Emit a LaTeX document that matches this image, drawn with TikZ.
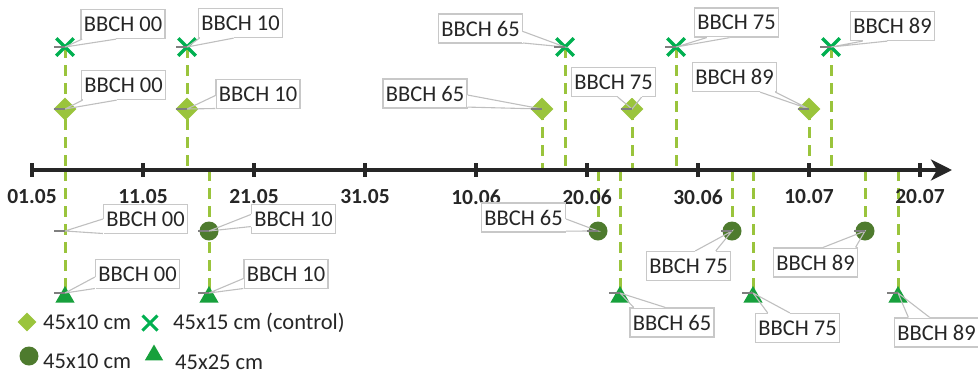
\documentclass[tikz,border=0pt]{standalone}
\usepackage{fontspec}
\setmainfont{Carlito}
\usetikzlibrary{shapes.geometric,shapes.misc,arrows.meta,calc}
\definecolor{lgreen}{HTML}{9AC43C}
\definecolor{xgreen}{HTML}{00B050}
\definecolor{dgreen}{HTML}{4E7B2E}
\definecolor{tgreen}{HTML}{17A03C}
\definecolor{boxgray}{HTML}{C8C8C8}
\definecolor{leadgray}{HTML}{BFBFBF}
\definecolor{stubgray}{HTML}{7F7F7F}
\definecolor{axisblack}{HTML}{262626}
\definecolor{txt}{HTML}{262626}

\tikzset{
  lbl/.style={draw=boxgray, fill=white, line width=1.2pt, text=txt,
    font=\fontsize{22.5}{26}\selectfont, minimum width=84pt, minimum height=29pt, inner sep=0pt},
  leader/.style={draw=leadgray, line width=1.1pt},
  stub/.style={draw=stubgray, line width=1.6pt},
  drop/.style={draw=lgreen, line width=3pt, dash pattern=on 11pt off 7pt},
  dmark/.style={diamond, fill=lgreen, minimum size=23pt, inner sep=0pt},
  xmark/.style={cross out, draw=xgreen, line width=3.5pt, minimum size=14pt, inner sep=0pt},
  omark/.style={circle, fill=dgreen, minimum size=19pt, inner sep=0pt},
  tmark/.style={regular polygon, regular polygon sides=3, fill=tgreen, minimum size=22pt, inner sep=0pt},
  axisline/.style={draw=axisblack, line width=3.5pt},
  ticklbl/.style={font=\fontsize{21.5}{25}\selectfont\bfseries, text=txt},
  legtxt/.style={font=\fontsize{22.5}{26}\selectfont, text=txt, anchor=west, inner sep=0pt}
}

% wedge of a callout box: box, edge anchors, fractions along the edge, tip
\newcommand\callout[6]{%
  \coordinate (#1-a) at ($(#1.#2)!#4!(#1.#3)$);
  \coordinate (#1-b) at ($(#1.#2)!#5!(#1.#3)$);
  \draw[white, line width=1.8pt] (#1-a) -- (#1-b);
  \draw[leader] (#1-a) -- (#6) -- (#1-b);
  \draw[stub] ($(#6)+(-11,0)$) -- (#6);
}

\begin{document}
\begin{tikzpicture}[x=1pt, y=-1pt]
\path[use as bounding box] (0,0) rectangle (978,373);
\coordinate (ax) at (0,170);

% marker positions
\coordinate (x00) at (65,47);
\coordinate (x10) at (187,47);
\coordinate (x65) at (565,47);
\coordinate (x75) at (676,47);
\coordinate (x89) at (831,47);
\coordinate (d00) at (65,109);
\coordinate (d10) at (187,109);
\coordinate (d65) at (542,109);
\coordinate (d75) at (632,109);
\coordinate (d89) at (809,109);
\coordinate (o00) at (65,231);
\coordinate (o10) at (209,231);
\coordinate (o65) at (598,231);
\coordinate (o75) at (732,231);
\coordinate (o89) at (865,231);
\coordinate (t00) at (65,293);
\coordinate (t10) at (209,293);
\coordinate (t65) at (620,293);
\coordinate (t75) at (753,293);
\coordinate (t89) at (898,293);

% drop lines to the time axis
\foreach \m in {x00,x10,x65,x75,x89,d65,d75,d89}
  \draw[drop] (\m) -- (\m |- ax);
\foreach \m in {t00,t10,t65,t75,t89,o65,o75,o89}
  \draw[drop] (\m |- ax) -- (\m);

% markers
\foreach \m in {x00,x10,x65,x75,x89}
  \node[xmark] (m\m) at (\m) {};
\foreach \m in {d00,d10,d65,d75,d89}
  \node[dmark] (m\m) at (\m) {};
\foreach \m in {o10,o65,o75,o89}
  \node[omark] (m\m) at (\m) {};
\foreach \m in {t00,t10,t65,t75,t89}
  \node[tmark] (m\m) at ($(\m)+(0,4)$) {};

% time axis
\coordinate (axs) at (32,170);
\coordinate (axe) at (952,170);
\draw[axisline, -{Stealth[length=21pt, width=21pt, inset=6pt]}] (axs) -- (axe);
\foreach \i/\d in {0/01.05,1/11.05,2/21.05,3/31.05,4/10.06,5/20.06,6/30.06,7/10.07,8/20.07}{
  \draw[axisline] (32+111*\i,163) -- (32+111*\i,177);
  \node[ticklbl] (tk\i) at (32+111*\i,197) {\d};
}

% callout labels
\node[lbl] (lx00) at (123,24) {BBCH 00};
\node[lbl] (lx10) at (240.5,23) {BBCH 10};
\node[lbl] (ld00) at (123.5,85) {BBCH 00};
\node[lbl] (ld10) at (258,94) {BBCH 10};
\node[lbl] (lx65) at (480.5,28.5) {BBCH 65};
\node[lbl] (ld65) at (425,93.5) {BBCH 65};
\node[lbl] (ld75) at (613.5,82) {BBCH 75};
\node[lbl] (lx75) at (736.5,22.5) {BBCH 75};
\node[lbl] (lx89) at (892.5,26) {BBCH 89};
\node[lbl] (ld89) at (734.5,77) {BBCH 89};
\node[lbl] (lo00) at (145.5,219) {BBCH 00};
\node[lbl] (lo10) at (293.5,219) {BBCH 10};
\node[lbl] (lt00) at (137.5,274) {BBCH 00};
\node[lbl] (lt10) at (286,274) {BBCH 10};
\node[lbl] (lo65) at (523.5,217.5) {BBCH 65};
\node[lbl] (lt65) at (672,322.5) {BBCH 65};
\node[lbl] (lo75) at (688.5,266) {BBCH 75};
\node[lbl] (lo89) at (815.5,262.5) {BBCH 89};
\node[lbl] (lt75) at (797.5,328) {BBCH 75};
\node[lbl] (lt89) at (936.5,332.5) {BBCH 89};

\callout{lx00}{south west}{south east}{0.02}{0.42}{x00}
\callout{lx10}{south west}{south east}{0.02}{0.42}{x10}
\callout{ld00}{south west}{south east}{0.02}{0.42}{d00}
\callout{ld10}{north west}{south west}{0.55}{0.98}{d10}
\callout{lx65}{north east}{south east}{0.6}{0.98}{x65}
\callout{ld65}{north east}{south east}{0.55}{0.95}{d65}
\callout{ld75}{south west}{south east}{0.55}{0.83}{d75}
\callout{lx75}{south west}{south east}{0.15}{0.42}{x75}
\callout{lx89}{south west}{south east}{0.15}{0.44}{x89}
\callout{ld89}{south west}{south east}{0.8}{0.98}{d89}
\callout{lo00}{north west}{south west}{0.5}{0.98}{o00}
\callout{lo10}{north west}{south west}{0.35}{0.75}{o10}
\callout{lt00}{north west}{south west}{0.6}{0.98}{t00}
\callout{lt10}{north west}{south west}{0.65}{0.98}{t10}
\callout{lo65}{north east}{south east}{0.55}{0.95}{o65}
\callout{lt65}{north west}{north east}{0.05}{0.42}{t65}
\callout{lo75}{north west}{north east}{0.58}{0.82}{o75}
\callout{lo89}{north west}{north east}{0.59}{0.97}{o89}
\callout{lt75}{north west}{north east}{0.15}{0.41}{t75}
\callout{lt89}{north west}{north east}{0.17}{0.42}{t89}

% legend
\node[dmark, minimum size=19pt] (kd) at (27,322) {};
\node[legtxt] (kdt) at (43,322) {45x10 cm};
\node[xmark, minimum size=12pt, line width=3pt] (kx) at (150,323) {};
\node[legtxt] (kxt) at (173,323) {45x15 cm (control)};
\node[omark] (ko) at (29,356) {};
\node[legtxt] (kot) at (43,361) {45x10 cm};
\node[tmark, minimum size=21pt] (kt) at (154,355) {};
\node[legtxt] (ktt) at (175,362) {45x25 cm};
\end{tikzpicture}
\end{document}
